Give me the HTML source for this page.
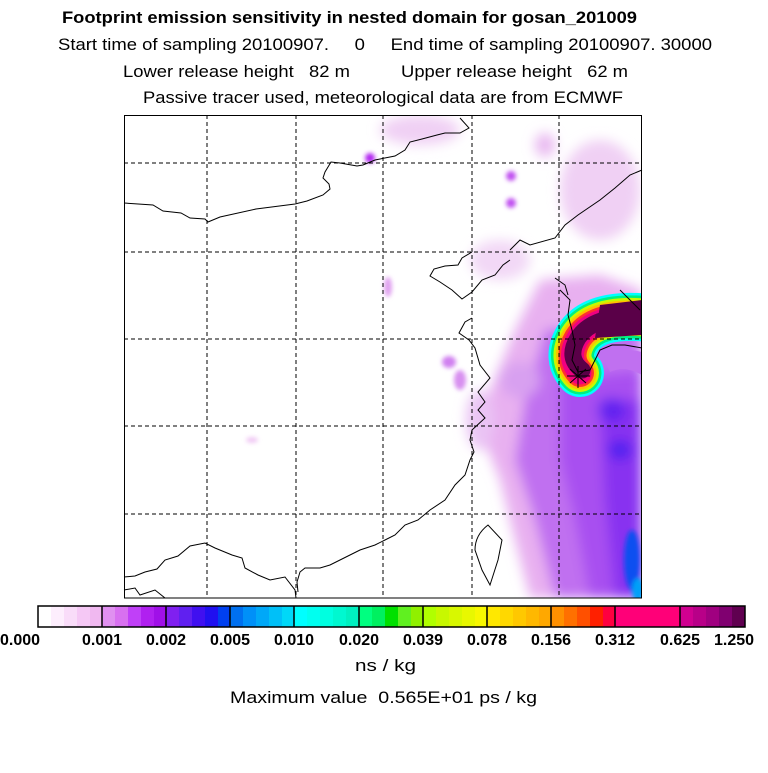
<!DOCTYPE html>
<html><head><style>
body{margin:0;background:#fff;width:768px;height:768px;overflow:hidden;font-family:"Liberation Sans",sans-serif;}
</style></head><body>
<svg width="768" height="768" xmlns="http://www.w3.org/2000/svg" font-family="Liberation Sans, sans-serif">
<defs>
<filter id="b" x="-50%" y="-50%" width="200%" height="200%"><feGaussianBlur stdDeviation="6"/></filter>
<filter id="b2" x="-50%" y="-50%" width="200%" height="200%"><feGaussianBlur stdDeviation="2"/></filter>
<clipPath id="c"><rect x="124" y="115" width="518" height="483"/></clipPath>
</defs>
<text x="62" y="23" font-size="17" font-weight="bold" textLength="575" lengthAdjust="spacingAndGlyphs">Footprint emission sensitivity in nested domain for gosan_201009</text>
<text x="58" y="50" font-size="17" textLength="654" lengthAdjust="spacingAndGlyphs" xml:space="preserve">Start time of sampling 20100907.     0     End time of sampling 20100907. 30000</text>
<text x="123" y="77" font-size="17" textLength="505" lengthAdjust="spacingAndGlyphs" xml:space="preserve">Lower release height   82 m          Upper release height   62 m</text>
<text x="143" y="103" font-size="17" textLength="480" lengthAdjust="spacingAndGlyphs">Passive tracer used, meteorological data are from ECMWF</text>
<g clip-path="url(#c)">
<g filter="url(#b)">
<path d="M540,280 L600,275 L642,290 L642,598 L530,598 L515,540 L500,480 L480,430 L490,390 L515,330 Z" fill="#e8b0f0"/>
<path d="M545,330 L642,320 L642,598 L555,598 L535,520 L515,460 L525,400 Z" fill="#c070f0"/>
<path d="M560,380 L642,370 L642,598 L590,598 L575,520 L560,460 Z" fill="#a850f0"/>
<path d="M600,400 L642,400 L642,598 L615,598 L605,500 Z" fill="#8830f0"/>
<ellipse cx="612" cy="410" rx="14" ry="12" fill="#6020f0"/>
<ellipse cx="620" cy="450" rx="12" ry="10" fill="#5020f0"/>
<ellipse cx="520" cy="380" rx="20" ry="18" fill="#d8a0f0"/>
<ellipse cx="480" cy="420" rx="14" ry="30" fill="#eac4f4"/>
<ellipse cx="600" cy="190" rx="40" ry="50" fill="#f0d0f4"/>
<ellipse cx="500" cy="260" rx="30" ry="20" fill="#f2d8f6"/>
<ellipse cx="420" cy="130" rx="40" ry="15" fill="#f0d0f4"/>
<ellipse cx="545" cy="145" rx="10" ry="12" fill="#e8b8f0"/>
</g>
<g filter="url(#b2)">
<circle cx="370" cy="158" r="5" fill="#b020f0"/>
<circle cx="511" cy="176" r="5" fill="#c050f0"/>
<circle cx="511" cy="203" r="5" fill="#c050f0"/>
<ellipse cx="388" cy="287" rx="4" ry="10" fill="#e0a0f0"/>
<ellipse cx="449" cy="362" rx="7" ry="6" fill="#d080f0"/>
<ellipse cx="460" cy="380" rx="6" ry="10" fill="#d890f0"/>
<ellipse cx="252" cy="440" rx="6" ry="3" fill="#f0c8f4"/>
<ellipse cx="632" cy="560" rx="8" ry="30" fill="#1050f0"/>
<ellipse cx="638" cy="590" rx="6" ry="12" fill="#00a0f8"/>
</g>
<g fill="none" stroke-linecap="round">
<path d="M650,318 Q595,312 578,338 Q566,358 580,373" stroke="#00ffff" stroke-width="48"/>
<path d="M650,318 Q595,312 578,338 Q566,358 580,373" stroke="#00f080" stroke-width="43"/>
<path d="M650,318 Q595,312 578,338 Q566,358 580,373" stroke="#c8f800" stroke-width="38"/>
<path d="M650,318 Q595,312 578,338 Q566,358 580,373" stroke="#ffc000" stroke-width="33"/>
<path d="M650,318 Q595,312 578,338 Q566,358 580,373" stroke="#ff3030" stroke-width="28"/>
<path d="M650,318 Q595,312 578,338 Q566,358 580,373" stroke="#f00080" stroke-width="23"/>
<path d="M650,318 Q595,312 578,338 Q566,358 582,370" stroke="#5a0048" stroke-width="17"/>
</g>
<path d="M600,305 L642,300 L642,335 L595,338 Z" fill="#5a0048"/>
<path d="M600,352 Q620,347 642,352 L642,375 Q625,365 610,372 Z" fill="#c070f0"/>
</g>
<g fill="none" stroke="#000" stroke-width="1">
<path d="M124,203 L153,205 L163,211 L181,213 L190,218 L205,219 L208,222 L220,217 L256,209 L295,204 L307,201 L323,195 L330,189 L329,184 L323,178 L325,172 L331,162 L340,163 L357,166 L363,165 L375,160 L395,156 L405,150 L410,142 L422,139 L437,135 L445,133 L460,133 L469,128 L460,118"/>
<path d="M472,252 L462,258 L458,265 L445,266 L434,269 L430,276 L440,282 L452,290 L462,299 L472,292 L482,280 L495,275 L503,265 L510,260"/>
<path d="M472,318 L465,322 L459,333 L469,340 L475,348 L480,365 L490,378 L478,392 L485,402 L478,410 L485,418 L472,430 L470,440 L474,452 L470,460 L465,475 L455,485 L445,500 L430,510 L418,520 L405,525 L395,535 L385,540 L375,545 L360,550 L350,555 L340,560 L330,565 L320,568 L305,568 L300,572 L297,582 L298,592"/>
<path d="M124,577 L135,576 L145,572 L157,569 L165,560 L178,556 L190,546 L205,543 L215,548 L232,555 L242,558 L245,568 L258,575 L270,580 L285,577 L295,590 L296,598"/>
<path d="M124,590 L135,588 L140,595 L155,590 L165,598"/>
<path d="M488,525 Q475,535 475,550 L482,570 L490,585 L498,560 L502,540 Z"/>
<path d="M510,250 L520,240 L530,245 L555,238 L565,225 L578,215 L600,200 L615,188 L630,175 L642,170"/>
<path d="M560,290 L570,300 L568,315 L572,330 L575,345 L572,360 L578,372 L590,370 L600,350 L612,345 L625,345 L642,348"/>
<path d="M555,278 L565,285 L568,295"/>
<path d="M620,290 L630,300 L640,310"/>
</g>
<path d="M567,376 L590,376 M578,366 L578,388 M570,369 L586,383 M586,369 L570,383" stroke="#000" stroke-width="1"/>
<g stroke="#000" stroke-width="1" stroke-dasharray="4,3">
<path d="M207,115V598M296,115V598M383,115V598M472,115V598M559,115V598"/>
<path d="M124,163H642M124,252H642M124,339H642M124,426H642M124,514H642"/>
</g>
<rect x="124.5" y="115.5" width="517" height="482.5" fill="none" stroke="#000" stroke-width="1"/>
<g>
<rect x="38" y="606" width="13" height="21" fill="#ffffff"/><rect x="51" y="606" width="13" height="21" fill="#fdeefd"/><rect x="64" y="606" width="13" height="21" fill="#f9dcf9"/><rect x="77" y="606" width="13" height="21" fill="#f5c8f5"/><rect x="90" y="606" width="12" height="21" fill="#f0b8f0"/>
<rect x="102" y="606" width="13" height="21" fill="#e090f0"/><rect x="115" y="606" width="13" height="21" fill="#d870f0"/><rect x="128" y="606" width="13" height="21" fill="#c040f8"/><rect x="141" y="606" width="13" height="21" fill="#b020f0"/><rect x="154" y="606" width="12" height="21" fill="#a010e8"/>
<rect x="166" y="606" width="13" height="21" fill="#8020f0"/><rect x="179" y="606" width="13" height="21" fill="#6020f0"/><rect x="192" y="606" width="13" height="21" fill="#4010f0"/><rect x="205" y="606" width="13" height="21" fill="#2010f0"/><rect x="218" y="606" width="12" height="21" fill="#0040f0"/>
<rect x="230" y="606" width="13" height="21" fill="#0070f0"/><rect x="243" y="606" width="13" height="21" fill="#0090f8"/><rect x="256" y="606" width="13" height="21" fill="#00a8f8"/><rect x="269" y="606" width="13" height="21" fill="#00c0f8"/><rect x="282" y="606" width="12" height="21" fill="#00d8f8"/>
<rect x="294" y="606" width="13" height="21" fill="#00ffff"/><rect x="307" y="606" width="13" height="21" fill="#00fff0"/><rect x="320" y="606" width="13" height="21" fill="#00ffe0"/><rect x="333" y="606" width="13" height="21" fill="#00f8d0"/><rect x="346" y="606" width="13" height="21" fill="#00f0c0"/>
<rect x="359" y="606" width="13" height="21" fill="#00ff80"/><rect x="372" y="606" width="13" height="21" fill="#00f060"/><rect x="385" y="606" width="13" height="21" fill="#00e000"/><rect x="398" y="606" width="13" height="21" fill="#60f020"/><rect x="411" y="606" width="12" height="21" fill="#90f000"/>
<rect x="423" y="606" width="13" height="21" fill="#b0ff00"/><rect x="436" y="606" width="13" height="21" fill="#c8f800"/><rect x="449" y="606" width="13" height="21" fill="#d8f800"/><rect x="462" y="606" width="13" height="21" fill="#e8f800"/><rect x="475" y="606" width="12" height="21" fill="#f8f800"/>
<rect x="487" y="606" width="13" height="21" fill="#ffe800"/><rect x="500" y="606" width="13" height="21" fill="#ffd800"/><rect x="513" y="606" width="13" height="21" fill="#ffc800"/><rect x="526" y="606" width="13" height="21" fill="#ffb800"/><rect x="539" y="606" width="12" height="21" fill="#ffa800"/>
<rect x="551" y="606" width="13" height="21" fill="#ff9000"/><rect x="564" y="606" width="13" height="21" fill="#ff7000"/><rect x="577" y="606" width="13" height="21" fill="#ff5000"/><rect x="590" y="606" width="13" height="21" fill="#ff2000"/><rect x="603" y="606" width="12" height="21" fill="#ff0040"/>
<rect x="615" y="606" width="65" height="21" fill="#ff0078"/>
<rect x="680" y="606" width="13" height="21" fill="#d00090"/><rect x="693" y="606" width="13" height="21" fill="#b80088"/><rect x="706" y="606" width="13" height="21" fill="#a00080"/><rect x="719" y="606" width="13" height="21" fill="#800070"/><rect x="732" y="606" width="13" height="21" fill="#600050"/>
</g>
<g stroke="#000" stroke-width="1.5" fill="none">
<rect x="38" y="606" width="707" height="21"/>
<path d="M102,606V627M166,606V627M230,606V627M294,606V627M359,606V627M423,606V627M487,606V627M551,606V627M615,606V627M680,606V627"/>
</g>
<g font-size="16" font-weight="bold" text-anchor="middle">
<text x="20" y="645">0.000</text><text x="102" y="645">0.001</text><text x="166" y="645">0.002</text><text x="230" y="645">0.005</text><text x="294" y="645">0.010</text><text x="359" y="645">0.020</text><text x="423" y="645">0.039</text><text x="487" y="645">0.078</text><text x="551" y="645">0.156</text><text x="615" y="645">0.312</text><text x="680" y="645">0.625</text><text x="734" y="645">1.250</text>
</g>
<text x="355" y="671" font-size="17" textLength="61" lengthAdjust="spacingAndGlyphs">ns / kg</text>
<text x="230" y="703" font-size="17" textLength="307" lengthAdjust="spacingAndGlyphs" xml:space="preserve">Maximum value  0.565E+01 ps / kg</text>
</svg>
</body></html>
